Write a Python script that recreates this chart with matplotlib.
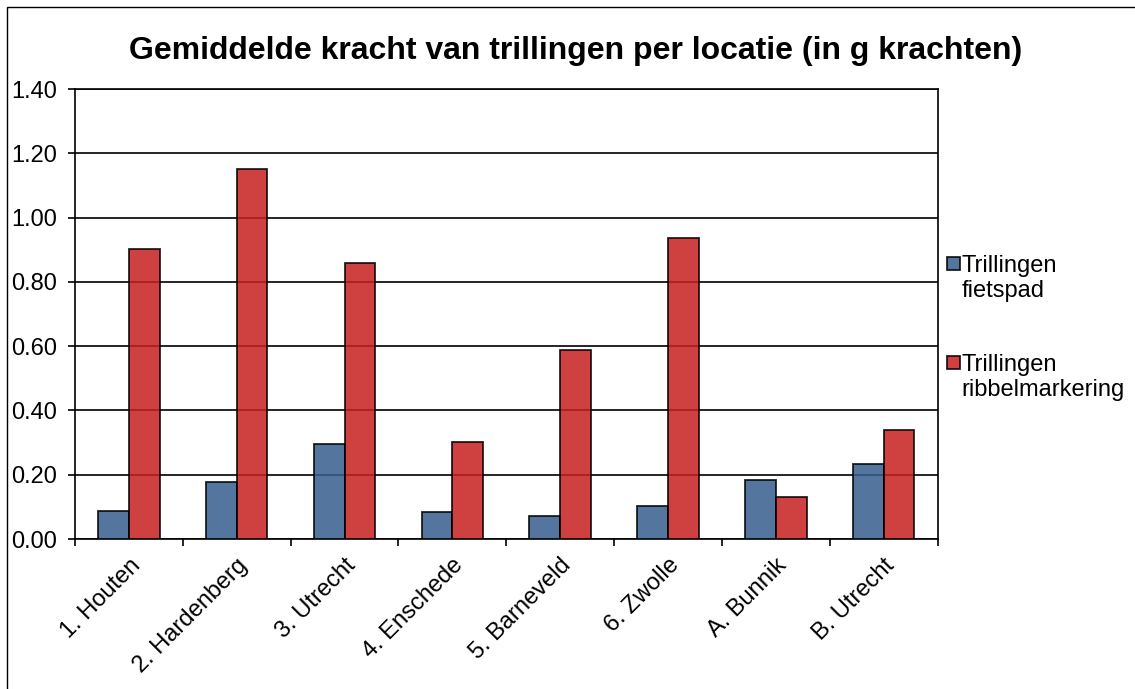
import matplotlib
matplotlib.use("Agg")
import matplotlib.pyplot as plt
import numpy as np
from matplotlib.patches import Rectangle
from matplotlib.legend_handler import HandlerPatch

categories = ["1. Houten", "2. Hardenberg", "3. Utrecht", "4. Enschede",
              "5. Barneveld", "6. Zwolle", "A. Bunnik", "B. Utrecht"]
fietspad = [0.088, 0.176, 0.296, 0.084, 0.073, 0.104, 0.184, 0.233]
ribbel = [0.902, 1.151, 0.858, 0.303, 0.589, 0.938, 0.131, 0.340]
yticks = [0.0, 0.2, 0.4, 0.6, 0.8, 1.0, 1.2, 1.4]
labels = ["Trillingen\nfietspad", "Trillingen\nribbelmarkering"]
title = "Gemiddelde kracht van trillingen per locatie (in g krachten)"

plt.rcParams['font.family'] = ['Liberation Sans', 'DejaVu Sans']
FS = 17

fig = plt.figure(figsize=(11.35, 6.89), dpi=100)
fig.patches.append(Rectangle((0.0062, -0.1), 1.2, 0.1 + 0.9905, transform=fig.transFigure,
                             fill=False, edgecolor='black', linewidth=1.0))
ax = fig.add_axes([0.0661, 0.2177, 0.7599, 0.6531])

x = np.arange(len(categories))
w = 0.285
blue = (56/255, 94/255, 141/255)
red = (199/255, 33/255, 33/255)
b1 = ax.bar(x - w/2, fietspad, w, color=blue, alpha=0.86, edgecolor='black', linewidth=1.3, zorder=3)
b2 = ax.bar(x + w/2, ribbel, w, color=red, alpha=0.86, edgecolor='black', linewidth=1.3, zorder=3)

ax.set_xlim(-0.5, len(categories) - 0.5)
ax.set_ylim(0, 1.4)
ax.set_yticks(yticks)
ax.set_yticklabels([f"{v:.2f}" for v in yticks], fontsize=FS)
ax.yaxis.grid(True, color='black', linewidth=1.2, zorder=1)
ax.set_axisbelow(True)

ax.set_xticks(np.arange(len(categories) + 1) - 0.5, minor=False)
ax.set_xticklabels([])
ax.set_xticks(x, minor=True)
ax.set_xticklabels(categories, minor=True, rotation=45, ha='right', va='top',
                   rotation_mode='anchor', fontsize=FS)
ax.tick_params(axis='x', which='minor', length=0, pad=11)
ax.tick_params(axis='x', which='major', length=5, width=1.2, direction='out')
ax.tick_params(axis='y', length=5, width=1.2, direction='out', pad=8)
for s in ax.spines.values():
    s.set_linewidth(1.2)
    s.set_color('black')

fig.text(0.507, 0.926, title, fontsize=23, fontweight='bold', ha='center', va='center')


def top_square(legend, orig_handle, xdescent, ydescent, width, height, fontsize):
    sq = 0.55 * fontsize
    return Rectangle((-xdescent, -ydescent + height - sq + 0.3 * fontsize), sq, sq)


class SquareHandler(HandlerPatch):
    def __init__(self):
        super().__init__(patch_func=top_square)

    def update_prop(self, legend_handle, orig_handle, legend):
        super().update_prop(legend_handle, orig_handle, legend)
        legend_handle.set_alpha(0.86)
        legend_handle.set_edgecolor('black')
        legend_handle.set_linewidth(1.3)


leg = fig.legend([b1.patches[0], b2.patches[0]], labels, loc='center left',
                 bbox_to_anchor=(0.8344, 0.524), frameon=False, fontsize=FS,
                 handlelength=0.55, handleheight=1.6, handletextpad=0.06,
                 labelspacing=2.2, borderaxespad=0, borderpad=0,
                 handler_map={Rectangle: SquareHandler()})

fig.savefig("out.png", dpi=100)
